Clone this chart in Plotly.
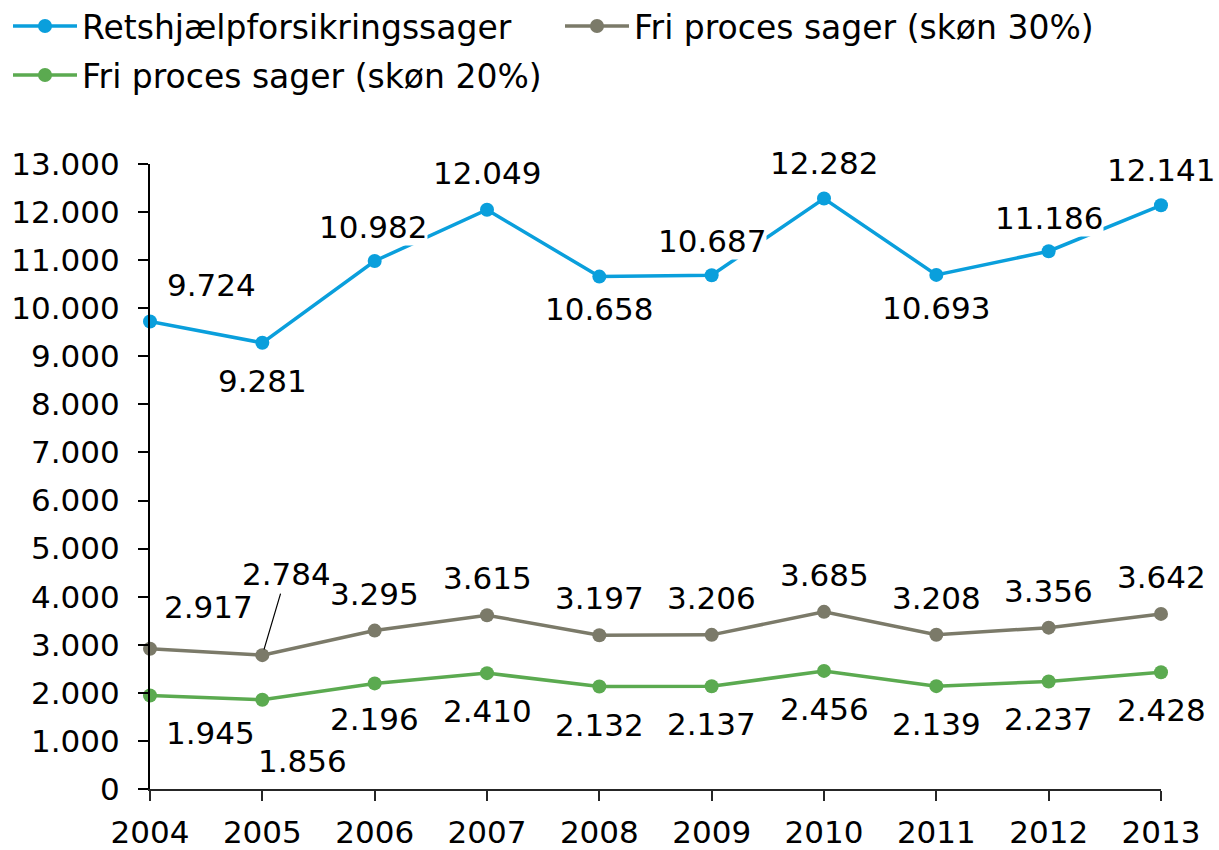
import plotly.graph_objects as go

years = [2004, 2005, 2006, 2007, 2008, 2009, 2010, 2011, 2012, 2013]
retshjaelp = [9724, 9281, 10982, 12049, 10658, 10687, 12282, 10693, 11186, 12141]
fri30 = [2917, 2784, 3295, 3615, 3197, 3206, 3685, 3208, 3356, 3642]
fri20 = [1945, 1856, 2196, 2410, 2132, 2137, 2456, 2139, 2237, 2428]

names = ["Retshjælpforsikringssager", "Fri proces sager (skøn 30%)", "Fri proces sager (skøn 20%)"]
colors = ["#0A9FDC", "#7B7A69", "#5BAA50"]
legends = ["legend", "legend2", "legend3"]

# label offsets (pixels) per point: (dx, dy)  -- style only
off_blue = [(61, -37), (0, 38), (-2, -34), (0, -37), (0, 32), (0, -34), (0, -36), (0, 33), (0, -33), (0, -35)]
off_gray = [(58, -42), None, (0, -37), (0, -37), (0, -37), (0, -37), (0, -37), (0, -37), (0, -37), (0, -37)]
off_green = [(60, 38), (40, 61), (0, 36), (0, 38), (0, 38), (0, 38), (0, 38), (0, 38), (0, 38), (0, 38)]

FONT = "DejaVu Sans"
FS = 31
LFS = 33

def fmt(v):
    return f"{v:,}".replace(",", ".")

fig = go.Figure()
for vals, name, col, lg in zip([retshjaelp, fri30, fri20], names, colors, legends):
    fig.add_trace(go.Scatter(
        x=years, y=vals, name=name, mode="lines+markers", legend=lg,
        line=dict(color=col, width=3.5), marker=dict(color=col, size=14),
        cliponaxis=False, hoverinfo="skip"))

annotations = []
for vals, offs in [(retshjaelp, off_blue), (fri30, off_gray), (fri20, off_green)]:
    for x, v, o in zip(years, vals, offs):
        if o is None:
            annotations.append(dict(
                x=x, y=v, xref="x", yref="y", text=fmt(v), showarrow=True,
                arrowhead=0, arrowwidth=1.2, arrowcolor="black", ax=24, ay=-81,
                standoff=6, font=dict(family=FONT, size=FS, color="black")))
        else:
            annotations.append(dict(
                x=x, y=v, xref="x", yref="y", text=fmt(v), showarrow=False,
                xshift=o[0], yshift=-o[1],
                font=dict(family=FONT, size=FS, color="black"),
                bgcolor="white", borderpad=0))

W, H = 1219, 850

legend_common = dict(orientation="h", xref="container", yref="container",
                     xanchor="left", yanchor="middle", itemwidth=64,
                     font=dict(family=FONT, size=LFS, color="black"),
                     bgcolor="rgba(0,0,0,0)", itemclick=False, itemdoubleclick=False)

fig.update_layout(
    width=W, height=H,
    margin=dict(l=150, r=58, t=164, b=61, autoexpand=False),
    paper_bgcolor="white", plot_bgcolor="white",
    separators=",.",
    font=dict(family=FONT, size=FS, color="black"),
    showlegend=True,
    legend=dict(x=8 / W, y=1 - 26 / H, **legend_common),
    legend2=dict(x=560 / W, y=1 - 26 / H, **legend_common),
    legend3=dict(x=8 / W, y=1 - 75 / H, **legend_common),
    annotations=annotations,
    xaxis=dict(range=[2004, 2013], tickmode="array", tickvals=years,
               ticktext=[str(y) for y in years], showgrid=False, zeroline=False,
               showline=True, linecolor="#262626", linewidth=2,
               ticks="outside", ticklen=10, tickwidth=2, tickcolor="#262626",
               ticklabelstandoff=5,
               tickfont=dict(family=FONT, size=FS, color="black")),
    yaxis=dict(range=[0, 13000], tickmode="array",
               tickvals=list(range(0, 13001, 1000)), tickformat=",d",
               showgrid=False, zeroline=False, showline=True,
               linecolor="black", linewidth=2, ticks="outside", ticklen=10,
               tickwidth=2, tickcolor="black", ticklabelstandoff=12,
               tickfont=dict(family=FONT, size=FS, color="black")),
)

fig.write_html("out.html", config={"displayModeBar": False},
               post_script="document.body.style.margin='0px';")
